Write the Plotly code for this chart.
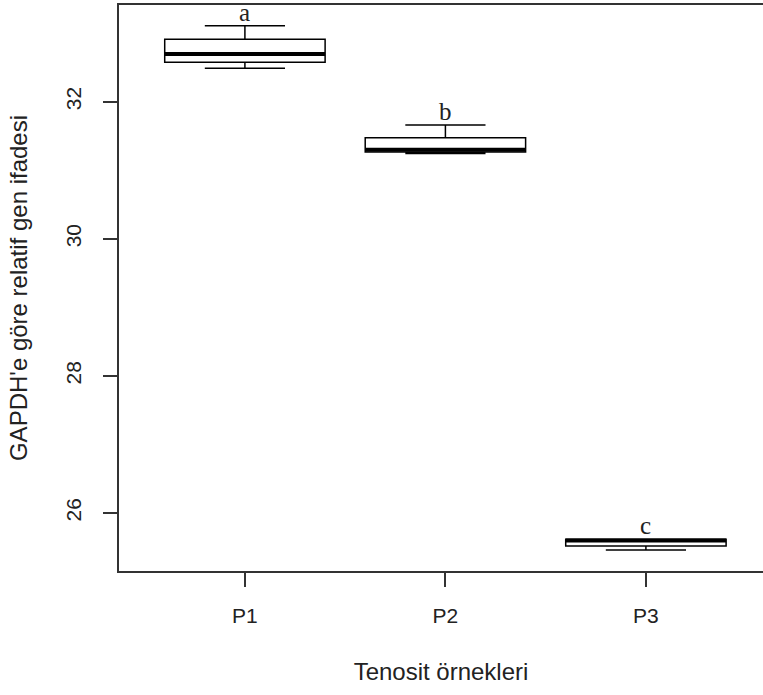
import plotly.graph_objects as go

categories = ["P1", "P2", "P3"]
positions = [1, 2, 3]
lower_fence = [32.487, 31.245, 25.46]
q1 = [32.575, 31.265, 25.52]
median = [32.696, 31.30, 25.60]
q3 = [32.91, 31.475, 25.616]
upper_fence = [33.109, 31.66, 25.616]
letters = ["a", "b", "c"]
y_ticks = [26, 28, 30, 32]

box_width = 0.8

fig = go.Figure()
for i, cat in enumerate(categories):
    fig.add_trace(go.Box(
        x=[positions[i]], q1=[q1[i]], median=[median[i]], q3=[q3[i]],
        lowerfence=[lower_fence[i]], upperfence=[upper_fence[i]],
        width=box_width, whiskerwidth=0.5, boxpoints=False,
        fillcolor="white", line=dict(color="black", width=1.5),
        name=cat, showlegend=False, hoverinfo="skip"))

# thick median lines
mx, my = [], []
for i in range(len(categories)):
    mx += [positions[i] - box_width / 2, positions[i] + box_width / 2, None]
    my += [median[i], median[i], None]
fig.add_trace(go.Scatter(x=mx, y=my, mode="lines",
                         line=dict(color="black", width=4),
                         showlegend=False, hoverinfo="skip"))

for i in range(len(categories)):
    fig.add_annotation(x=positions[i], y=upper_fence[i], text=letters[i],
                       showarrow=False, yanchor="bottom", yshift=-2,
                       font=dict(family="Liberation Serif", size=25, color="#222"))

axis_line = dict(showline=True, linecolor="#333", linewidth=2,
                 ticks="outside", ticklen=14, tickwidth=1.5, tickcolor="#333",
                 showgrid=False, zeroline=False)

fig.update_xaxes(range=[0.372, 3.584], tickvals=positions, ticktext=categories,
                 mirror=True, ticklabelstandoff=11,
                 title=dict(text="Tenosit örnekleri", standoff=37,
                            font=dict(size=24, color="#222")),
                 tickfont=dict(size=21, color="#222"), **axis_line)
fig.update_yaxes(range=[25.154, 33.41], tickvals=y_ticks, tickangle=-90,
                 ticklabelstandoff=14,
                 title=dict(text="GAPDH'e göre relatif gen ifadesi", standoff=27,
                            font=dict(size=24, color="#222")),
                 tickfont=dict(size=21, color="#222"), **axis_line)

fig.update_layout(width=763, height=695,
                  margin=dict(l=119, r=0, t=5, b=124),
                  plot_bgcolor="white", paper_bgcolor="white",
                  font=dict(family="Liberation Sans", color="#222"))

fig.write_html("out.html", config={"displayModeBar": False},
               post_script="document.body.style.margin='0';")
